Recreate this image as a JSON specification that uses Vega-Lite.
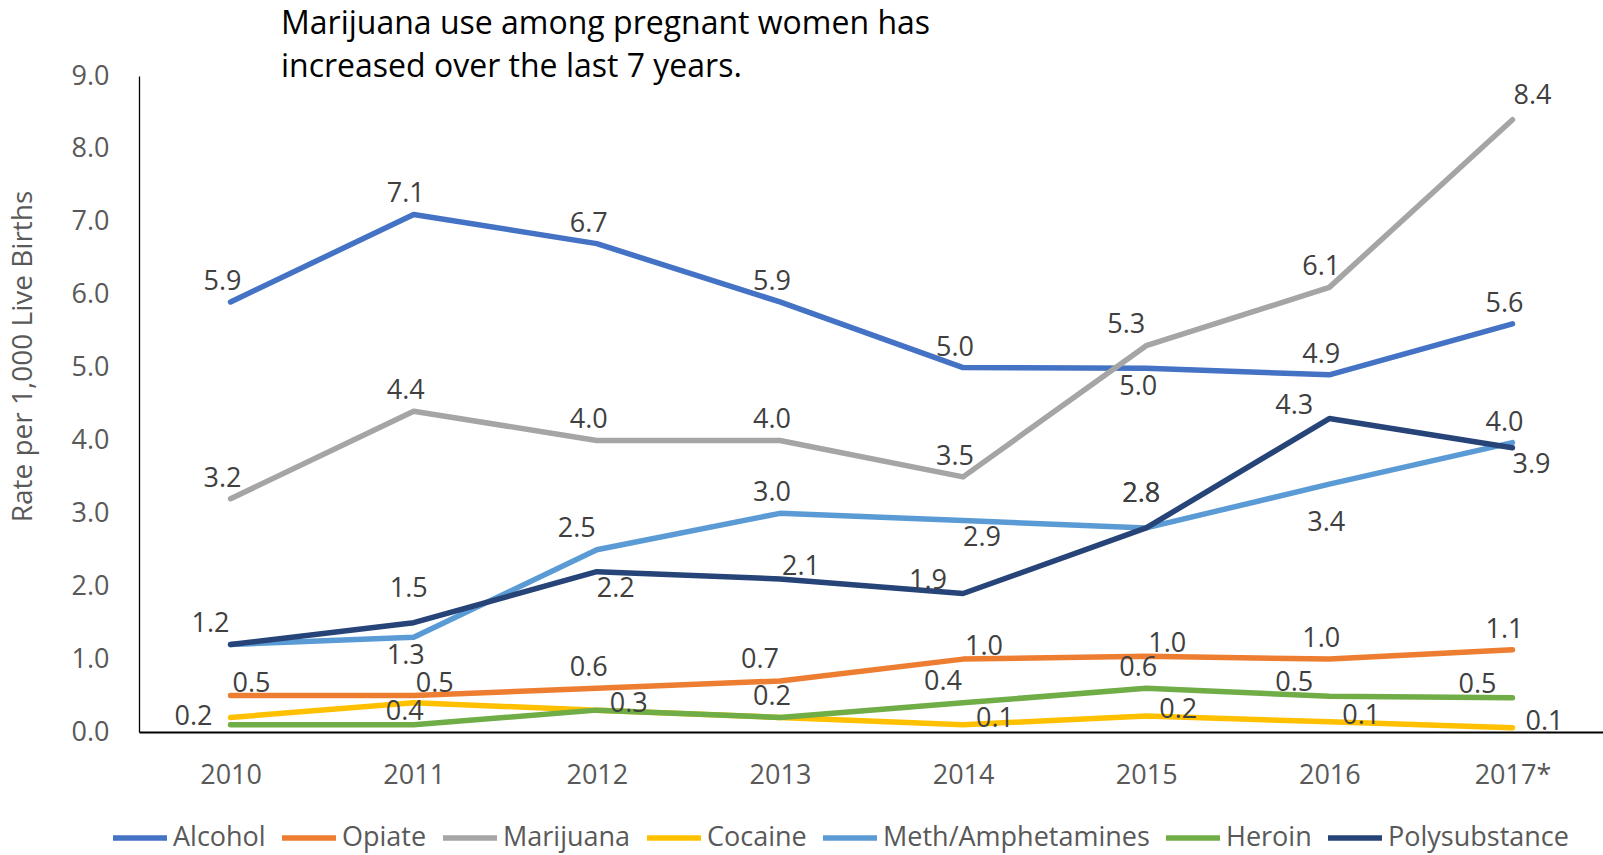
{
  "$schema": "https://vega.github.io/schema/vega-lite/v6.json",
  "width": 1465,
  "height": 656,
  "autosize": {"type": "none"},
  "padding": {"left": 139, "top": 76, "right": 0, "bottom": 123},
  "background": "white",
  "config": {"view": {"stroke": null}},
  "title": {
    "text": ["Marijuana use among pregnant women has", "increased over the last 7 years."],
    "anchor": "start",
    "frame": "group",
    "orient": "top",
    "baseline": "alphabetic",
    "font": "Open Sans",
    "fontSize": 32,
    "fontWeight": "normal",
    "color": "#000000",
    "lineHeight": 43,
    "dx": 142,
    "dy": 48,
    "offset": 1
  },
  "data": {
    "values": [
      {"series": "Alcohol", "year": "2010", "rate": 5.9},
      {"series": "Alcohol", "year": "2011", "rate": 7.1},
      {"series": "Alcohol", "year": "2012", "rate": 6.7},
      {"series": "Alcohol", "year": "2013", "rate": 5.9},
      {"series": "Alcohol", "year": "2014", "rate": 5.0},
      {"series": "Alcohol", "year": "2015", "rate": 4.99},
      {"series": "Alcohol", "year": "2016", "rate": 4.9},
      {"series": "Alcohol", "year": "2017*", "rate": 5.6},
      {"series": "Opiate", "year": "2010", "rate": 0.5},
      {"series": "Opiate", "year": "2011", "rate": 0.5},
      {"series": "Opiate", "year": "2012", "rate": 0.6},
      {"series": "Opiate", "year": "2013", "rate": 0.7},
      {"series": "Opiate", "year": "2014", "rate": 1.0},
      {"series": "Opiate", "year": "2015", "rate": 1.04},
      {"series": "Opiate", "year": "2016", "rate": 1.0},
      {"series": "Opiate", "year": "2017*", "rate": 1.13},
      {"series": "Marijuana", "year": "2010", "rate": 3.2},
      {"series": "Marijuana", "year": "2011", "rate": 4.4},
      {"series": "Marijuana", "year": "2012", "rate": 4.0},
      {"series": "Marijuana", "year": "2013", "rate": 4.0},
      {"series": "Marijuana", "year": "2014", "rate": 3.5},
      {"series": "Marijuana", "year": "2015", "rate": 5.3},
      {"series": "Marijuana", "year": "2016", "rate": 6.1},
      {"series": "Marijuana", "year": "2017*", "rate": 8.4},
      {"series": "Cocaine", "year": "2010", "rate": 0.2},
      {"series": "Cocaine", "year": "2011", "rate": 0.4},
      {"series": "Cocaine", "year": "2012", "rate": 0.3},
      {"series": "Cocaine", "year": "2013", "rate": 0.2},
      {"series": "Cocaine", "year": "2014", "rate": 0.1},
      {"series": "Cocaine", "year": "2015", "rate": 0.22},
      {"series": "Cocaine", "year": "2016", "rate": 0.14},
      {"series": "Cocaine", "year": "2017*", "rate": 0.06},
      {"series": "Meth/Amphetamines", "year": "2010", "rate": 1.2},
      {"series": "Meth/Amphetamines", "year": "2011", "rate": 1.3},
      {"series": "Meth/Amphetamines", "year": "2012", "rate": 2.5},
      {"series": "Meth/Amphetamines", "year": "2013", "rate": 3.0},
      {"series": "Meth/Amphetamines", "year": "2014", "rate": 2.9},
      {"series": "Meth/Amphetamines", "year": "2015", "rate": 2.8},
      {"series": "Meth/Amphetamines", "year": "2016", "rate": 3.4},
      {"series": "Meth/Amphetamines", "year": "2017*", "rate": 3.97},
      {"series": "Heroin", "year": "2010", "rate": 0.1},
      {"series": "Heroin", "year": "2011", "rate": 0.1},
      {"series": "Heroin", "year": "2012", "rate": 0.3},
      {"series": "Heroin", "year": "2013", "rate": 0.2},
      {"series": "Heroin", "year": "2014", "rate": 0.4},
      {"series": "Heroin", "year": "2015", "rate": 0.6},
      {"series": "Heroin", "year": "2016", "rate": 0.49},
      {"series": "Heroin", "year": "2017*", "rate": 0.47},
      {"series": "Polysubstance", "year": "2010", "rate": 1.2},
      {"series": "Polysubstance", "year": "2011", "rate": 1.5},
      {"series": "Polysubstance", "year": "2012", "rate": 2.2},
      {"series": "Polysubstance", "year": "2013", "rate": 2.1},
      {"series": "Polysubstance", "year": "2014", "rate": 1.9},
      {"series": "Polysubstance", "year": "2015", "rate": 2.8},
      {"series": "Polysubstance", "year": "2016", "rate": 4.3},
      {"series": "Polysubstance", "year": "2017*", "rate": 3.9}
    ]
  },
  "encoding": {
    "x": {
      "field": "year",
      "type": "ordinal",
      "scale": {"type": "point", "padding": 0.5},
      "axis": {
        "title": null,
        "grid": false,
        "ticks": false,
        "domainColor": "#000000",
        "domainWidth": 2,
        "labelAngle": 0,
        "labelFont": "Open Sans",
        "labelFontSize": 27,
        "labelColor": "#595959",
        "labelPadding": 30
      }
    },
    "y": {
      "field": "rate",
      "type": "quantitative",
      "scale": {"domain": [0, 9], "nice": false},
      "axis": {
        "title": "Rate per 1,000 Live Births",
        "values": [0, 1, 2, 3, 4, 5, 6, 7, 8, 9],
        "format": ".1f",
        "grid": false,
        "ticks": false,
        "domainColor": "#000000",
        "domainWidth": 1.3,
        "labelFont": "Open Sans",
        "labelFontSize": 27,
        "labelColor": "#595959",
        "labelPadding": 30,
        "titleFont": "Open Sans",
        "titleFontSize": 28,
        "titleFontWeight": "normal",
        "titleColor": "#595959",
        "titleAngle": 270,
        "titleAlign": "center",
        "titleBaseline": "middle",
        "titleX": -116,
        "titleY": 280
      }
    }
  },
  "layer": [
    {
      "mark": {"type": "line", "strokeWidth": 5.5, "strokeCap": "round", "strokeJoin": "round"},
      "encoding": {
        "color": {
          "field": "series",
          "type": "nominal",
          "sort": null,
          "scale": {
            "domain": ["Alcohol", "Opiate", "Marijuana", "Cocaine", "Meth/Amphetamines", "Heroin", "Polysubstance"],
            "range": ["#4472C4", "#ED7D31", "#A5A5A5", "#FFC000", "#5B9BD5", "#70AD47", "#264478"]
          },
          "legend": {
            "orient": "none",
            "legendX": -29,
            "legendY": 732,
            "direction": "horizontal",
            "title": null,
            "symbolType": "stroke",
            "symbolStrokeWidth": 5.5,
            "symbolSize": 2916,
            "labelFont": "Open Sans",
            "labelFontSize": 27,
            "labelColor": "#595959",
            "labelOffset": 3,
            "labelLimit": 400,
            "columnPadding": 5,
            "padding": 0
          }
        }
      }
    },
    {
      "transform": [{"filter": "indexof(['Alcohol|2010','Alcohol|2011','Alcohol|2012','Alcohol|2013','Alcohol|2014','Alcohol|2016','Alcohol|2017*','Marijuana|2010','Marijuana|2011','Marijuana|2012','Marijuana|2013','Marijuana|2014','Marijuana|2016','Opiate|2012','Opiate|2016','Opiate|2017*','Meth/Amphetamines|2013','Meth/Amphetamines|2017*','Heroin|2015','Cocaine|2013'], datum.series + '|' + datum.year) >= 0"}],
      "mark": {"type": "text", "font": "Open Sans", "fontSize": 27, "color": "#404040", "align": "center", "baseline": "middle", "dx": -8, "dy": -20},
      "encoding": {"text": {"field": "rate", "type": "quantitative", "format": ".1f"}}
    },
    {
      "transform": [{"filter": "indexof(['Alcohol|2015','Meth/Amphetamines|2011'], datum.series + '|' + datum.year) >= 0"}],
      "mark": {"type": "text", "font": "Open Sans", "fontSize": 27, "color": "#404040", "align": "center", "baseline": "middle", "dx": -8, "dy": 19},
      "encoding": {"text": {"field": "rate", "type": "quantitative", "format": ".1f"}}
    },
    {
      "transform": [{"filter": "datum.series === 'Meth/Amphetamines' && datum.year === '2016'"}],
      "mark": {"type": "text", "font": "Open Sans", "fontSize": 27, "color": "#404040", "align": "center", "baseline": "middle", "dx": -3, "dy": 39},
      "encoding": {"text": {"field": "rate", "type": "quantitative", "format": ".1f"}}
    },
    {
      "transform": [{"filter": "indexof(['Marijuana|2015','Meth/Amphetamines|2012','Polysubstance|2010','Heroin|2014','Opiate|2013'], datum.series + '|' + datum.year) >= 0"}],
      "mark": {"type": "text", "font": "Open Sans", "fontSize": 27, "color": "#404040", "align": "center", "baseline": "middle", "dx": -20, "dy": -21},
      "encoding": {"text": {"field": "rate", "type": "quantitative", "format": ".1f"}}
    },
    {
      "transform": [{"filter": "indexof(['Polysubstance|2014','Polysubstance|2016','Heroin|2016','Heroin|2017*'], datum.series + '|' + datum.year) >= 0"}],
      "mark": {"type": "text", "font": "Open Sans", "fontSize": 27, "color": "#404040", "align": "center", "baseline": "middle", "dx": -35, "dy": -13},
      "encoding": {"text": {"field": "rate", "type": "quantitative", "format": ".1f"}}
    },
    {
      "transform": [{"filter": "datum.series === 'Cocaine' && datum.year === '2010'"}],
      "mark": {"type": "text", "font": "Open Sans", "fontSize": 27, "color": "#404040", "align": "center", "baseline": "middle", "dx": -37, "dy": 0},
      "encoding": {"text": {"field": "rate", "type": "quantitative", "format": ".1f"}}
    },
    {
      "transform": [{"filter": "datum.series === 'Cocaine' && datum.year === '2011'"}],
      "mark": {"type": "text", "font": "Open Sans", "fontSize": 27, "color": "#404040", "align": "center", "baseline": "middle", "dx": -9, "dy": 9},
      "encoding": {"text": {"field": "rate", "type": "quantitative", "format": ".1f"}}
    },
    {
      "transform": [{"filter": "indexof(['Opiate|2010','Opiate|2011','Opiate|2014','Opiate|2015','Polysubstance|2013'], datum.series + '|' + datum.year) >= 0"}],
      "mark": {"type": "text", "font": "Open Sans", "fontSize": 27, "color": "#404040", "align": "center", "baseline": "middle", "dx": 21, "dy": -12},
      "encoding": {"text": {"field": "rate", "type": "quantitative", "format": ".1f"}}
    },
    {
      "transform": [{"filter": "datum.series === 'Marijuana' && datum.year === '2017*'"}],
      "mark": {"type": "text", "font": "Open Sans", "fontSize": 27, "color": "#404040", "align": "center", "baseline": "middle", "dx": 20, "dy": -24},
      "encoding": {"text": {"field": "rate", "type": "quantitative", "format": ".1f"}}
    },
    {
      "transform": [{"filter": "indexof(['Cocaine|2012','Cocaine|2014','Cocaine|2015','Cocaine|2016','Cocaine|2017*'], datum.series + '|' + datum.year) >= 0"}],
      "mark": {"type": "text", "font": "Open Sans", "fontSize": 27, "color": "#404040", "align": "center", "baseline": "middle", "dx": 32, "dy": -6},
      "encoding": {"text": {"field": "rate", "type": "quantitative", "format": ".1f"}}
    },
    {
      "transform": [{"filter": "indexof(['Meth/Amphetamines|2014','Polysubstance|2012','Polysubstance|2017*'], datum.series + '|' + datum.year) >= 0"}],
      "mark": {"type": "text", "font": "Open Sans", "fontSize": 27, "color": "#404040", "align": "center", "baseline": "middle", "dx": 19, "dy": 17},
      "encoding": {"text": {"field": "rate", "type": "quantitative", "format": ".1f"}}
    },
    {
      "transform": [{"filter": "indexof(['Meth/Amphetamines|2015','Polysubstance|2015','Polysubstance|2011'], datum.series + '|' + datum.year) >= 0"}],
      "mark": {"type": "text", "font": "Open Sans", "fontSize": 27, "color": "#404040", "align": "center", "baseline": "middle", "dx": -5, "dy": -34},
      "encoding": {"text": {"field": "rate", "type": "quantitative", "format": ".1f"}}
    }
  ]
}
